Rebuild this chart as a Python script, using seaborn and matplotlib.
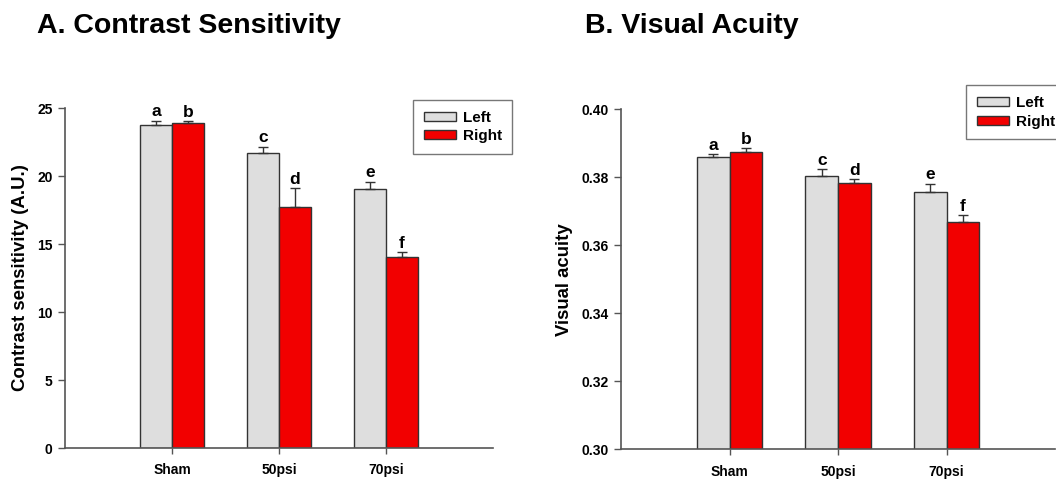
import matplotlib
matplotlib.use("Agg")
import matplotlib.pyplot as plt
import seaborn as sns
import pandas as pd
import numpy as np

groups = ["Sham", "50psi", "70psi"]
eyes = ["Left", "Right"]

cs_left = [23.75, 21.70, 19.04]
cs_right = [23.90, 17.72, 14.07]
cs_left_err = [0.32, 0.45, 0.54]
cs_right_err = [0.15, 1.37, 0.33]
cs_letters_left = ["a", "c", "e"]
cs_letters_right = ["b", "d", "f"]

va_left = [0.3859, 0.3805, 0.3756]
va_right = [0.3874, 0.3784, 0.3669]
va_left_err = [0.0009, 0.0019, 0.0025]
va_right_err = [0.0011, 0.0010, 0.0019]
va_letters_left = ["a", "c", "e"]
va_letters_right = ["b", "d", "f"]

sns.set_theme(style="ticks")
plt.rcParams['font.family'] = ['Liberation Sans', 'DejaVu Sans']
plt.rcParams['font.weight'] = 'bold'
plt.rcParams['text.color'] = 'black'
plt.rcParams['xtick.color'] = 'black'
plt.rcParams['ytick.color'] = 'black'
plt.rcParams['axes.labelcolor'] = 'black'

colors = {"Left": "#dedede", "Right": "#f20000"}

fig = plt.figure(figsize=(10.56, 4.8), dpi=100)
ax1 = fig.add_axes([65/1056, 1-448/480, (493-65)/1056, (448-108)/480])
ax2 = fig.add_axes([621/1056, 1-449.3/480, (1055-621)/1056, (449.3-109.3)/480])


def draw(ax, left, right, lerr, rerr, llet, rlet, ylim, yticks, yfmt, ylabel, title, title_x, legend_bbox, txt_off):
    df = pd.DataFrame({
        "group": groups * 2,
        "eye": ["Left"] * 3 + ["Right"] * 3,
        "value": list(left) + list(right),
    })
    errs = list(lerr) + list(rerr)
    letters = list(llet) + list(rlet)
    sns.barplot(data=df, x="group", y="value", hue="eye", order=groups, hue_order=eyes,
                palette=colors, width=0.6, gap=0, errorbar=None, ax=ax,
                edgecolor="#333333", linewidth=1.0, saturation=1)
    bars = [p for p in ax.patches if p.get_height() != 0]
    for i, p in enumerate(bars[:6]):
        xc = p.get_x() + p.get_width() / 2
        top = p.get_y() + p.get_height()
        ax.errorbar([xc], [top], yerr=[[0], [errs[i]]], fmt="none", ecolor="#333333",
                    elinewidth=1.0, capsize=3.6, capthick=1.0)
        ax.text(xc, top + errs[i] + txt_off, letters[i], ha="center", va="bottom",
                fontsize=12.5, fontweight="bold")
    ax.set_xlim(-1, 3)
    ax.set_ylim(*ylim)
    ax.set_yticks(yticks)
    ax.set_yticklabels([yfmt.format(t) for t in yticks], fontsize=10, fontweight="bold")
    ax.set_xticks(range(3))
    ax.set_xticklabels(groups, fontsize=10, fontweight="bold")
    ax.tick_params(axis="x", length=4, width=1, color="#555555", pad=7)
    ax.tick_params(axis="y", length=5, width=1, color="#555555", pad=4)
    ax.set_xlabel("")
    ax.set_ylabel(ylabel, fontsize=13.4, fontweight="bold", labelpad=6)
    sns.despine(ax=ax)
    for s in ["left", "bottom"]:
        ax.spines[s].set_color("#555555")
        ax.spines[s].set_linewidth(1.2)
    ax.spines["left"].set_zorder(5)
    leg = ax.legend(loc="upper left", bbox_to_anchor=legend_bbox, frameon=True, fancybox=False,
                    edgecolor="#555555", handlelength=2.1, handleheight=0.55,
                    borderpad=0.7, labelspacing=0.3, handletextpad=0.45,
                    prop={"weight": "bold", "size": 11}, borderaxespad=0)
    leg.get_frame().set_linewidth(1.0)
    fig.text(title_x, 1 - 26/480, title, fontsize=20.5, fontweight="bold", ha="left", va="center")


draw(ax1, cs_left, cs_right, cs_left_err, cs_right_err, cs_letters_left, cs_letters_right,
     (0, 25), [0, 5, 10, 15, 20, 25], "{:g}", "Contrast sensitivity (A.U.)",
     "A. Contrast Sensitivity", 37/1056, ((413-65)/428, 1 + 8/340), 0.1)
draw(ax2, va_left, va_right, va_left_err, va_right_err, va_letters_left, va_letters_right,
     (0.30, 0.40), [0.30, 0.32, 0.34, 0.36, 0.38, 0.40], "{:.2f}", "Visual acuity",
     "B. Visual Acuity", 585/1056, ((966-621)/434, 1 + 24/340), 0.0004)

fig.savefig("out.png", dpi=100)
